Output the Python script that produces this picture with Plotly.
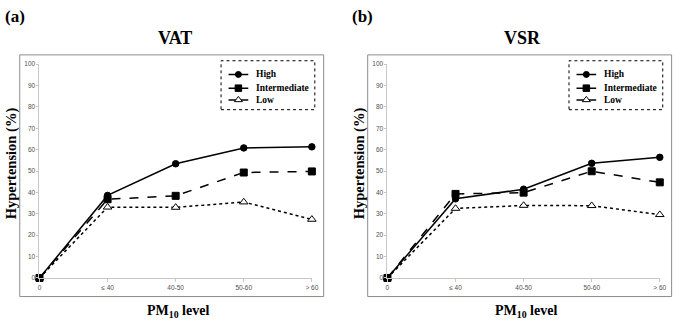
import plotly.graph_objects as go

W, H = 680, 325

# ---- data -------------------------------------------------------------
categories = ["0", "≤ 40", "40-50", "50-60", "> 60"]
series_names = ["High", "Intermediate", "Low"]

vat_high = [0, 38.6, 53.4, 60.8, 61.3]
vat_intermediate = [0, 36.8, 38.4, 49.3, 49.8]
vat_low = [0, 33.1, 33.0, 35.5, 27.4]

vsr_high = [0, 37.0, 41.5, 53.6, 56.4]
vsr_intermediate = [0, 39.3, 39.9, 49.9, 44.7]
vsr_low = [0, 32.5, 33.9, 33.8, 29.6]

y_ticks = [0, 10, 20, 30, 40, 50, 60, 70, 80, 90, 100]

# ---- styling ----------------------------------------------------------
SERIF = "Liberation Serif"
SANS = "Liberation Sans"
styles = {
    "High": dict(dash="solid", symbol="circle", size=6.5, fill="black"),
    "Intermediate": dict(dash="dash", symbol="square", size=7, fill="black"),
    "Low": dict(dash="dot", symbol="triangle-up", size=7.5, fill="white"),
}
draw_order = ["Low", "High", "Intermediate"]


def px(x):
    return x / W


def py(y):
    return 1 - y / H


panels = [
    dict(label="(a)", title="VAT", dx=0.0,
         values={"High": vat_high, "Intermediate": vat_intermediate, "Low": vat_low}),
    dict(label="(b)", title="VSR", dx=352.6,
         values={"High": vsr_high, "Intermediate": vsr_intermediate, "Low": vsr_low}),
]

fig = go.Figure()
layout = dict(
    width=W, height=H, margin=dict(l=0, r=0, t=0, b=0),
    paper_bgcolor="white", plot_bgcolor="rgba(0,0,0,0)",
    showlegend=False, shapes=[], annotations=[],
)

legend_rows = {"High": 0.72, "Intermediate": 0.44, "Low": 0.20}


def bold(size):
    return dict(family=SERIF, size=size, color="black", weight="bold")


for i, p in enumerate(panels):
    dx = p["dx"]
    xa, ya = f"xaxis{2*i+1 if i else ''}", f"yaxis{2*i+1 if i else ''}"
    xr, yr = f"x{2*i+1 if i else ''}", f"y{2*i+1 if i else ''}"
    lxa, lya = f"xaxis{2*i+2}", f"yaxis{2*i+2}"
    lxr, lyr = f"x{2*i+2}", f"y{2*i+2}"

    # main axes
    layout[xa] = dict(
        domain=[px(38 + dx), px(314 + dx)], anchor=yr, type="category",
        range=[0, len(categories) - 1], showgrid=False, zeroline=False,
        showline=True, linecolor="#c8c8c8", linewidth=1,
        ticks="outside", ticklen=3, tickcolor="#c8c8c8",
        tickfont=dict(family=SANS, size=6.5, color="#505050"),
        categoryorder="array", categoryarray=categories,
    )
    layout[ya] = dict(
        domain=[py(280), py(61.4)], anchor=xr, range=[0, 100],
        tickvals=y_ticks, showgrid=False, zeroline=False,
        showline=True, linecolor="#c8c8c8", linewidth=1,
        ticks="outside", ticklen=2, tickcolor="#c8c8c8",
        tickfont=dict(family=SANS, size=6.5, color="#505050"),
    )

    for name in draw_order:
        s = styles[name]
        fig.add_trace(go.Scatter(
            x=categories, y=p["values"][name], xaxis=xr, yaxis=yr,
            mode="lines+markers", name=name, cliponaxis=False,
            line=dict(color="black", width=1.5, dash=s["dash"]),
            marker=dict(symbol=s["symbol"], size=s["size"], color=s["fill"],
                        line=dict(color="black", width=1)),
        ))

    # legend axes (inside dashed box)
    layout[lxa] = dict(domain=[px(222 + dx), px(317 + dx)], anchor=lyr,
                       range=[0, 1], visible=False, fixedrange=True)
    layout[lya] = dict(domain=[py(108), py(58)], anchor=lxr,
                       range=[0, 1], visible=False, fixedrange=True)
    for name in series_names:
        s = styles[name]
        row = legend_rows[name]
        fig.add_trace(go.Scatter(
            x=[0.08, 0.29], y=[row, row], xaxis=lxr, yaxis=lyr, mode="lines",
            line=dict(color="black", width=1.5), hoverinfo="skip"))
        fig.add_trace(go.Scatter(
            x=[0.185], y=[row], xaxis=lxr, yaxis=lyr, mode="markers",
            marker=dict(symbol=s["symbol"], size=s["size"] - 0.5, color=s["fill"],
                        line=dict(color="black", width=1)), hoverinfo="skip"))
        layout["annotations"].append(dict(
            xref=lxr, yref=lyr, x=0.35, y=row, text=name, showarrow=False,
            xanchor="left", yanchor="middle", font=bold(9.5)))

    # panel frame and dashed legend box
    layout["shapes"].append(dict(
        type="rect", xref="paper", yref="paper",
        x0=px(18 + dx), x1=px(326 + dx), y0=py(299), y1=py(52),
        line=dict(color="#8c8c8c", width=1)))
    layout["shapes"].append(dict(
        type="rect", xref="paper", yref="paper",
        x0=px(222 + dx), x1=px(317 + dx), y0=py(108), y1=py(58),
        line=dict(color="black", width=1, dash="dot")))

    # texts
    centred = dict(xref="paper", yref="paper", showarrow=False,
                   xanchor="center", yanchor="middle")
    layout["annotations"] += [
        dict(centred, x=px(13 + dx), y=py(13), text=p["label"], font=bold(17)),
        dict(centred, x=px(175 + dx), y=py(35), text=p["title"], font=bold(18)),
        dict(centred, x=px(10 + dx), y=py(163), text="Hypertension (%)",
             textangle=-90, font=bold(14.5)),
        dict(centred, x=px(178 + dx), y=py(314), text="PM<sub>10</sub> level",
             font=bold(14)),
    ]

fig.update_layout(**layout)
fig.write_html("out.html")
